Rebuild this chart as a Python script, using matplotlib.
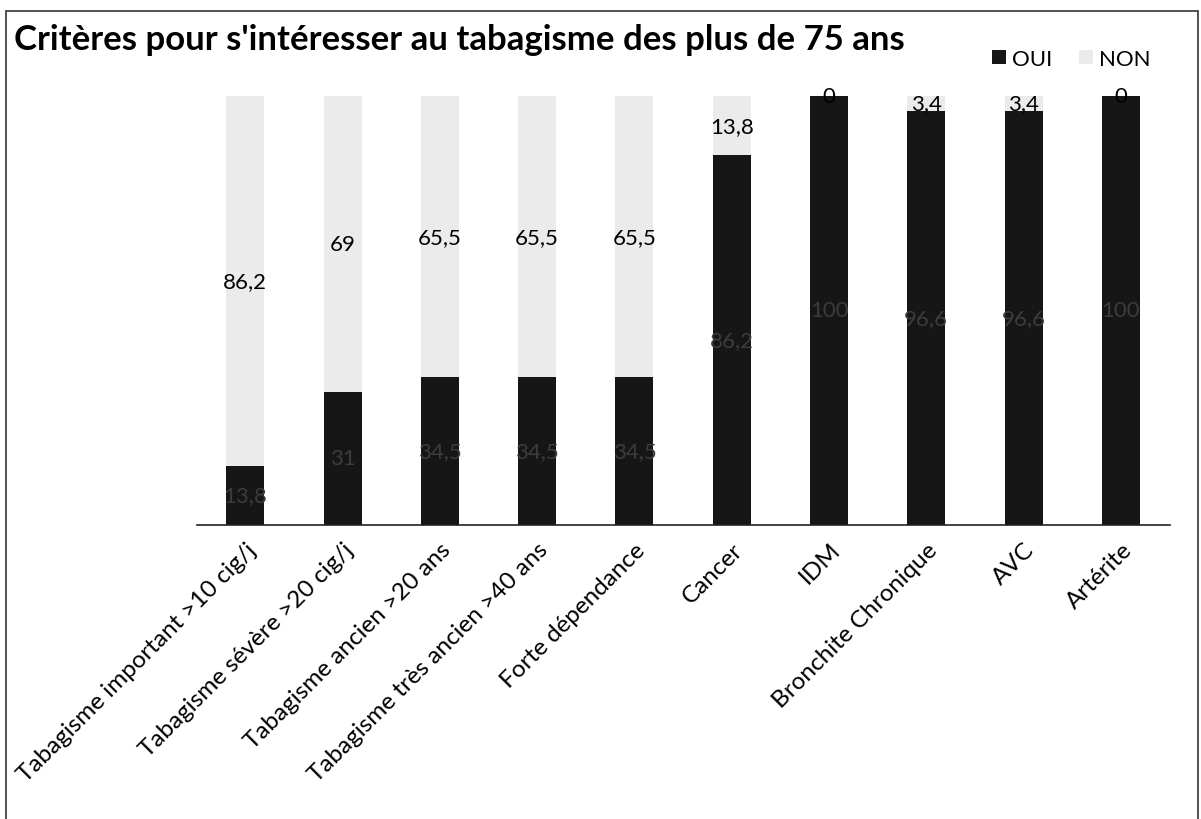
import matplotlib
matplotlib.use("Agg")
import matplotlib.pyplot as plt
from matplotlib.patches import Rectangle

categories = [
    "Tabagisme important >10 cig/j",
    "Tabagisme sévère >20 cig/j",
    "Tabagisme ancien >20 ans",
    "Tabagisme très ancien >40 ans",
    "Forte dépendance",
    "Cancer",
    "IDM",
    "Bronchite Chronique",
    "AVC",
    "Artérite",
]
oui = [13.8, 31, 34.5, 34.5, 34.5, 86.2, 100, 96.6, 96.6, 100]
non = [86.2, 69, 65.5, 65.5, 65.5, 13.8, 0, 3.4, 3.4, 0]
series_names = ["OUI", "NON"]
title = "Critères pour s'intéresser au tabagisme des plus de 75 ans"

plt.rcParams["font.family"] = ["Lato", "DejaVu Sans"]

W, H = 1201, 820
fig = plt.figure(figsize=(W / 100, H / 100), dpi=100)
fig.patch.set_facecolor("white")

# outer chart frame
fig.add_artist(Rectangle((6 / W, -0.05), (1198 - 6) / W, 1.05 - 12 / H,
                         transform=fig.transFigure, fill=False,
                         edgecolor="#333333", linewidth=1.2))

ax = fig.add_axes([196.6 / W, (H - 525.7) / H, 973 / W, 428.4 / H])
x = list(range(len(categories)))
dark = "#161616"
light = "#ebebeb"
b1 = ax.bar(x, oui, width=0.39, color=dark, label=series_names[0])
b2 = ax.bar(x, non, width=0.39, bottom=oui, color=light, label=series_names[1])

def fmt(v):
    s = f"{v:.1f}".rstrip("0").rstrip(".")
    return s.replace(".", ",")

for xi, o, n in zip(x, oui, non):
    ax.text(xi, o / 2, fmt(o), ha="center", va="center", fontsize=16,
            color="#3c3c3c")
    ax.text(xi, o + n / 2, fmt(n), ha="center", va="center", fontsize=16,
            color="black")

ax.set_xlim(-0.5, len(categories) - 0.5)
ax.set_ylim(0, 100)
ax.set_yticks([])
for s in ["top", "right", "left"]:
    ax.spines[s].set_visible(False)
ax.spines["bottom"].set_color("#222222")
ax.spines["bottom"].set_linewidth(1.2)
ax.set_xticks(x)
ax.set_xticklabels(categories, rotation=45, ha="right", va="top",
                   rotation_mode="anchor", fontsize=17.5)
ax.tick_params(axis="x", length=0, pad=10)

fig.text(14 / W, 1 - 40 / H, title, fontsize=25, fontweight="bold",
         ha="left", va="center")

fig.legend(handles=[b1, b2], labels=series_names, loc="center right",
           bbox_to_anchor=(1162 / W, 1 - 60 / H), ncol=2, frameon=False,
           fontsize=16, handlelength=0.6, handleheight=0.6,
           handletextpad=0.3, columnspacing=1.2, borderpad=0)

fig.savefig("out.png", dpi=100)
